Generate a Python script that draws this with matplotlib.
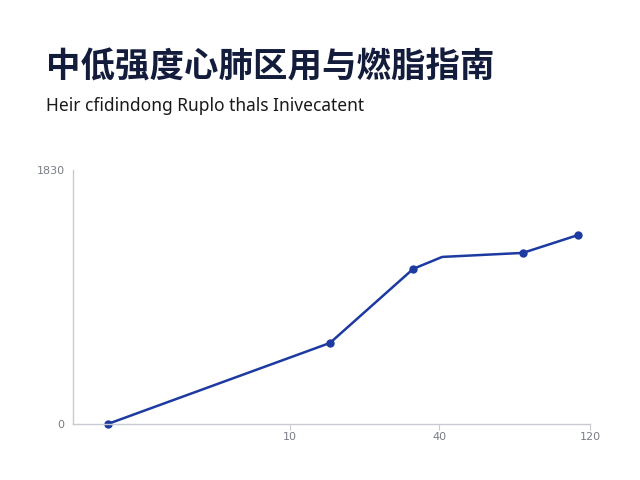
import matplotlib
matplotlib.use("Agg")
import matplotlib.pyplot as plt

# data (x in axis-fraction units 0..100)
x_vals = [6.8, 49.7, 65.8, 71.4, 87.0, 97.7]
y_vals = [0, 583, 1117, 1203, 1232, 1361]
marker_idx = [0, 1, 2, 4, 5]

x_tick_pos = [42.0, 70.8, 100.0]
x_tick_labels = ["10", "40", "120"]
y_tick_pos = [0, 1830]
y_tick_labels = ["0", "1830"]

title = "中低强度心肺区用与燃脂指南"
subtitle = "Heir cfidindong Ruplo thals Inivecatent"

line_color = "#1c3aa0"
axis_color = "#c8cbd2"

fig = plt.figure(figsize=(6.4, 4.8), dpi=100)
fig.patch.set_facecolor("white")

fig.text(0.072, 0.860, title, fontsize=24.8, fontweight="bold", color="#141c3c",
         family=["Noto Sans CJK SC", "DejaVu Sans"], va="center", ha="left")
fig.text(0.072, 0.779, subtitle, fontsize=12.5, color="#1a1a1a",
         family=["Noto Sans", "DejaVu Sans"], va="center", ha="left")

ax = fig.add_axes([0.114, 0.117, 0.808, 0.529])
ax.plot(x_vals, y_vals, color=line_color, linewidth=1.8,
        marker="o", markersize=5, markevery=marker_idx, clip_on=False)

ax.set_xlim(0, 100)
ax.set_ylim(0, 1830)
ax.set_xticks(x_tick_pos)
ax.set_xticklabels(x_tick_labels)
ax.set_yticks(y_tick_pos)
ax.set_yticklabels(y_tick_labels)

for side in ["top", "right"]:
    ax.spines[side].set_visible(False)
for side in ["left", "bottom"]:
    ax.spines[side].set_color(axis_color)
    ax.spines[side].set_linewidth(1.0)

ax.tick_params(axis="x", length=4, color=axis_color, labelsize=8,
               labelcolor="#7a7d85", pad=2)
ax.tick_params(axis="y", length=0, labelsize=8, labelcolor="#7a7d85", pad=6)

fig.savefig("out.png", dpi=100, facecolor="white")
